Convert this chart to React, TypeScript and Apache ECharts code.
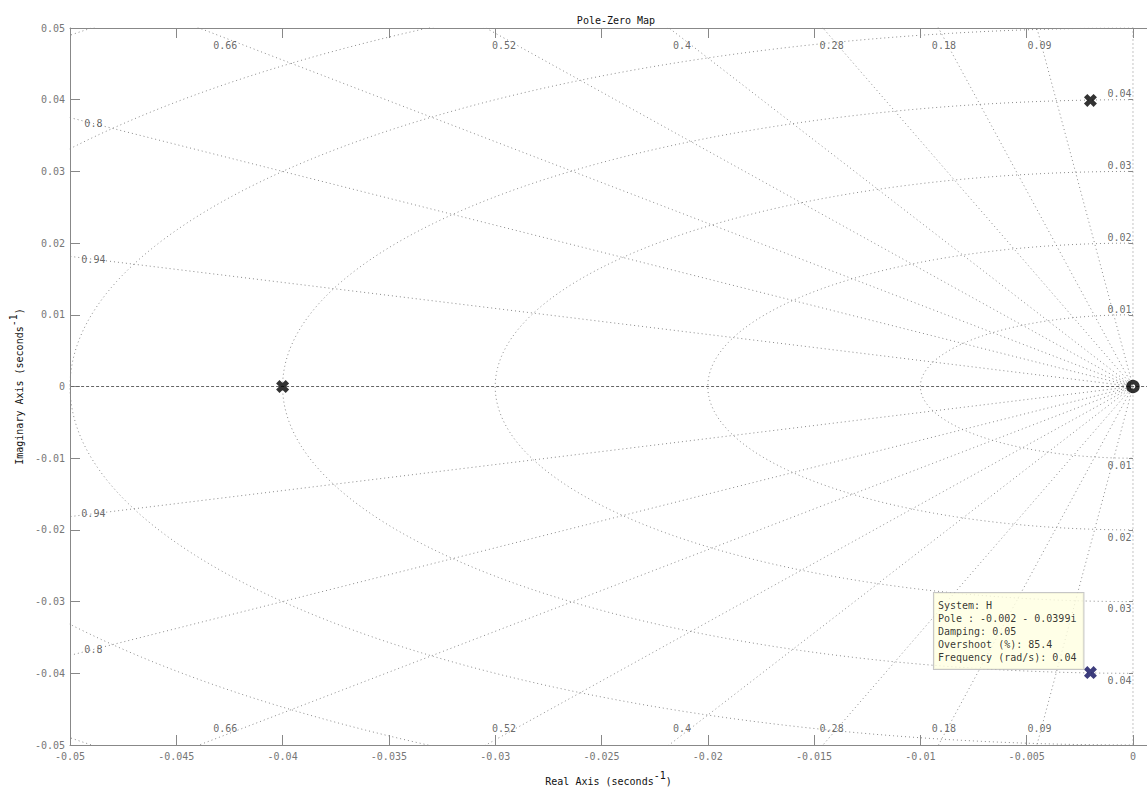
import React, { useEffect, useRef } from "react";
import * as echarts from "echarts";

// ---- data ----
const X_MIN = -0.05;
const X_MAX = 0.00066;
const X_STEP = 0.005;
const Y_MIN = -0.05;
const Y_MAX = 0.05;
const Y_STEP = 0.01;

const DAMPING = [0.09, 0.18, 0.28, 0.4, 0.52, 0.66, 0.8, 0.94];
const NAT_FREQ = [0.01, 0.02, 0.03, 0.04, 0.05, 0.06, 0.07];

const POLES: number[][] = [
  [-0.04, 0],
  [-0.002, 0.0399],
];
const SELECTED_POLE: number[] = [-0.002, -0.0399];
const ZEROS: number[][] = [[0, 0]];

const TIP_LINES = [
  "System: H",
  "Pole : -0.002 - 0.0399i",
  "Damping: 0.05",
  "Overshoot (%): 85.4",
  "Frequency (rad/s): 0.04",
];

const MONO = "'DejaVu Sans Mono', monospace";
const GRID_COLOR = "#8a8a8a";
const AXIS_COLOR = "#888888";

function buildOption() {
  const R = 0.2;
  const series: any[] = [];

  DAMPING.forEach((z) => {
    const s = Math.sqrt(1 - z * z);
    series.push({
      type: "line",
      silent: true,
      symbol: "none",
      clip: true,
      data: [
        [-R * z, R * s],
        [0, 0],
        [-R * z, -R * s],
      ],
      lineStyle: { color: GRID_COLOR, width: 1, type: [1, 3] },
      z: 1,
    });
  });
  series.push({
    type: "line",
    silent: true,
    symbol: "none",
    clip: true,
    data: [
      [0, -R],
      [0, R],
    ],
    lineStyle: { color: GRID_COLOR, width: 1, type: [1, 3] },
    z: 1,
  });
  series.push({
    type: "line",
    silent: true,
    symbol: "none",
    clip: true,
    data: [
      [-R, 0],
      [R, 0],
    ],
    lineStyle: { color: "#666", width: 1, type: [3, 2] },
    z: 1,
  });
  NAT_FREQ.forEach((w) => {
    const pts: number[][] = [];
    for (let a = 90; a <= 270; a += 1) {
      const t = (a * Math.PI) / 180;
      pts.push([w * Math.cos(t), w * Math.sin(t)]);
    }
    series.push({
      type: "line",
      silent: true,
      symbol: "none",
      clip: true,
      data: pts,
      lineStyle: { color: GRID_COLOR, width: 1, type: [1, 3] },
      z: 1,
    });
  });

  const gridLabels: any[] = [];
  DAMPING.forEach((z) => {
    const t = z / Math.sqrt(1 - z * z);
    if (t > 1) {
      const x = -0.0489;
      const y = 0.0489 / t;
      gridLabels.push({ value: [x, y], name: String(z) });
      gridLabels.push({ value: [x, -y], name: String(z) });
    } else {
      const x = -0.0486 * t;
      gridLabels.push({ value: [x, 0.0476], name: String(z) });
      gridLabels.push({ value: [x, -0.0477], name: String(z) });
    }
  });
  NAT_FREQ.forEach((w) => {
    if (w + 0.0009 < Y_MAX) {
      gridLabels.push({ value: [-0.00063, w + 0.0008], name: String(w) });
      gridLabels.push({ value: [-0.00063, -(w + 0.001)], name: String(w) });
    }
  });
  series.push({
    type: "scatter",
    silent: true,
    symbol: "circle",
    symbolSize: 1,
    itemStyle: { color: "rgba(0,0,0,0)" },
    data: gridLabels,
    label: {
      show: true,
      position: "inside",
      formatter: (p: any) => p.name,
      color: "#444",
      fontFamily: MONO,
      fontSize: 10,
    },
    z: 2,
  });

  const xPath =
    "path://M2.6,0 L5,2.4 L7.4,0 L10,2.6 L7.6,5 L10,7.4 L7.4,10 L5,7.6 L2.6,10 L0,7.4 L2.4,5 L0,2.6 Z";

  series.push({
    type: "scatter",
    silent: true,
    symbol: xPath,
    symbolSize: 13,
    itemStyle: { color: "#000" },
    data: POLES,
    z: 5,
  });
  series.push({
    type: "scatter",
    silent: true,
    symbol: "circle",
    symbolSize: 9,
    itemStyle: { color: "rgba(0,0,0,0)", borderColor: "#000", borderWidth: 4.5 },
    data: ZEROS,
    clip: false,
    z: 5,
  });
  series.push({
    type: "scatter",
    silent: true,
    symbol: xPath,
    symbolSize: 13,
    itemStyle: { color: "#0d0d5c" },
    data: [SELECTED_POLE],
    label: {
      show: true,
      position: [-150, 3],
      align: "left",
      verticalAlign: "bottom",
      formatter: () => TIP_LINES.join("\n"),
      color: "#000",
      fontFamily: MONO,
      fontSize: 10,
      lineHeight: 13,
      backgroundColor: "#ffffe1",
      borderColor: "#b8b8b8",
      borderWidth: 1,
      padding: [6, 7, 5, 4],
    },
    z: 6,
  });

  const nameStyle = {
    color: "#111",
    fontFamily: MONO,
    fontSize: 10,
    rich: {
      sup: { color: "#111", fontFamily: MONO, fontSize: 10, padding: [0, 0, 12, 0] },
    },
  };

  return {
    animation: false,
    backgroundColor: "#ffffff",
    title: {
      text: "Pole-Zero Map",
      left: 611,
      top: 10,
      textAlign: "center",
      textStyle: { fontFamily: MONO, fontSize: 10, fontWeight: "normal", color: "#111" },
    },
    grid: { left: 68, top: 28, right: 0, bottom: 42 },
    xAxis: [
      {
        type: "value",
        min: X_MIN,
        max: X_MAX,
        interval: X_STEP,
        position: "bottom",
        axisLine: { show: true, onZero: false, lineStyle: { color: AXIS_COLOR } },
        axisTick: { show: true, inside: true, length: 10, lineStyle: { color: AXIS_COLOR } },
        axisLabel: { color: "#777", fontFamily: MONO, fontSize: 10, margin: 6, showMaxLabel: false },
        splitLine: { show: false },
        name: "Real Axis (seconds{sup|-1})",
        nameLocation: "middle",
        nameGap: 25,
        nameTextStyle: nameStyle,
      },
      {
        type: "value",
        min: X_MIN,
        max: X_MAX,
        interval: X_STEP,
        position: "top",
        axisLine: { show: true, onZero: false, lineStyle: { color: AXIS_COLOR } },
        axisTick: { show: true, inside: true, length: 10, lineStyle: { color: AXIS_COLOR } },
        axisLabel: { show: false },
        splitLine: { show: false },
      },
    ],
    yAxis: [
      {
        type: "value",
        min: Y_MIN,
        max: Y_MAX,
        interval: Y_STEP,
        position: "left",
        axisLine: { show: true, onZero: false, lineStyle: { color: AXIS_COLOR } },
        axisTick: { show: true, inside: true, length: 10, lineStyle: { color: AXIS_COLOR } },
        axisLabel: { color: "#777", fontFamily: MONO, fontSize: 10, margin: 5 },
        splitLine: { show: false },
        name: "Imaginary Axis (seconds{sup|-1})",
        nameLocation: "middle",
        nameGap: 37,
        nameTextStyle: nameStyle,
      },
      {
        type: "value",
        min: Y_MIN,
        max: Y_MAX,
        interval: Y_STEP,
        position: "right",
        axisLine: { show: false },
        axisTick: { show: true, inside: true, length: 4, lineStyle: { color: AXIS_COLOR } },
        axisLabel: { show: false },
        splitLine: { show: false },
      },
    ],
    series,
  };
}

export default function App() {
  const ref = useRef<HTMLDivElement>(null);
  useEffect(() => {
    if (!ref.current) return;
    const chart = echarts.init(ref.current, undefined, { renderer: "svg" });
    chart.setOption(buildOption() as any);
    return () => chart.dispose();
  }, []);
  return (
    <div
      ref={ref}
      style={{ position: "fixed", left: 0, top: 0, width: 1147, height: 791, background: "#fff" }}
    />
  );
}
